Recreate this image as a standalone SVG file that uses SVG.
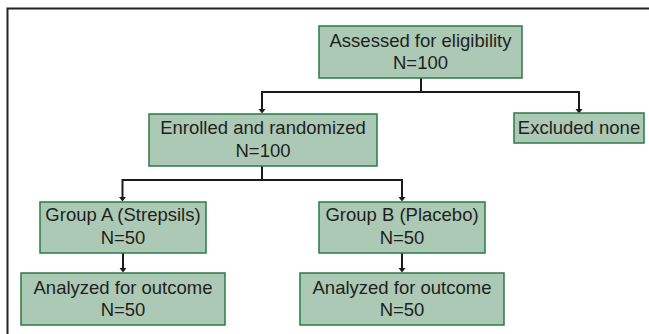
<svg xmlns="http://www.w3.org/2000/svg" width="649" height="334" viewBox="0 0 649 334">
  <style>
    .box { fill: #abc9b4; stroke: #2b7a48; stroke-width: 1.5; }
    .txt { font-family: "Liberation Sans", Arial, sans-serif; font-size: 18.5px; fill: #231f20; text-anchor: middle; }
    .con { fill: none; stroke: #1a1a1a; stroke-width: 2; }
    .frame { fill: none; stroke: #222; stroke-width: 2; }
  </style>
  <defs>
    <marker id="arrV" markerUnits="userSpaceOnUse" markerWidth="8" markerHeight="8" refX="4" refY="4" viewBox="0 0 8 8" orient="0">
      <path d="M0.5,2 L7.5,2 L4,6.5 Z" fill="#1a1a1a"/>
    </marker>
  </defs>
  <rect width="649" height="334" fill="#ffffff"/>
  <path class="frame" d="M7.5,336 V8.5 H651"/>

  <g id="connectors">
    <path class="con" d="M421,78 V92"/>
    <path class="con" d="M262,92 H579"/>
    <line class="con" x1="262" y1="91" x2="262" y2="111" marker-end="url(#arrV)"/>
    <line class="con" x1="579" y1="91" x2="579" y2="111" marker-end="url(#arrV)"/>
    <path class="con" d="M262,166 V180"/>
    <path class="con" d="M122.5,180 H402"/>
    <line class="con" x1="122.5" y1="179" x2="122.5" y2="199" marker-end="url(#arrV)"/>
    <line class="con" x1="402" y1="179" x2="402" y2="199" marker-end="url(#arrV)"/>
    <line class="con" x1="123" y1="253" x2="123" y2="270" marker-end="url(#arrV)"/>
    <line class="con" x1="402" y1="253" x2="402" y2="270" marker-end="url(#arrV)"/>
  </g>

  <g id="assessed">
    <rect class="box" x="319" y="26" width="203" height="52"/>
    <text class="txt" x="420.5" y="47">Assessed for eligibility</text>
    <text class="txt" x="420.5" y="69">N=100</text>
  </g>
  <g id="enrolled">
    <rect class="box" x="149" y="114" width="228" height="52"/>
    <text class="txt" x="263" y="134">Enrolled and randomized</text>
    <text class="txt" x="263" y="157">N=100</text>
  </g>
  <g id="excluded">
    <rect class="box" x="514" y="113" width="130" height="30"/>
    <text class="txt" x="579" y="134">Excluded none</text>
  </g>
  <g id="groupA">
    <rect class="box" x="40" y="202" width="166" height="51"/>
    <text class="txt" x="123" y="221">Group A (Strepsils)</text>
    <text class="txt" x="123" y="244">N=50</text>
  </g>
  <g id="groupB">
    <rect class="box" x="319" y="202" width="166" height="51"/>
    <text class="txt" x="402" y="221">Group B (Placebo)</text>
    <text class="txt" x="402" y="244">N=50</text>
  </g>
  <g id="analyzedA">
    <rect class="box" x="21" y="273" width="204" height="52"/>
    <text class="txt" x="123" y="294">Analyzed for outcome</text>
    <text class="txt" x="123" y="316">N=50</text>
  </g>
  <g id="analyzedB">
    <rect class="box" x="300" y="273" width="204" height="52"/>
    <text class="txt" x="402" y="294">Analyzed for outcome</text>
    <text class="txt" x="402" y="316">N=50</text>
  </g>
</svg>
